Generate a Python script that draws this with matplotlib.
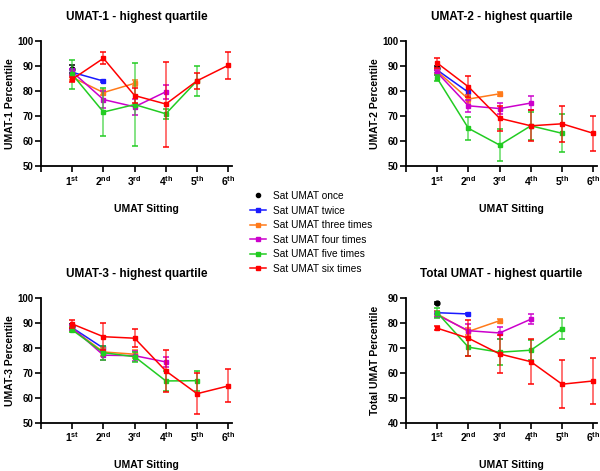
import numpy as np
import matplotlib
matplotlib.use("Agg")
import matplotlib.pyplot as plt
from matplotlib.lines import Line2D

plt.rcParams['font.family'] = ['Liberation Sans', 'DejaVu Sans']
plt.rcParams['mathtext.fontset'] = 'custom'
plt.rcParams['mathtext.rm'] = 'Liberation Sans'
plt.rcParams['mathtext.bf'] = 'Liberation Sans:bold'

groups = ['Sat UMAT once', 'Sat UMAT twice', 'Sat UMAT three times',
          'Sat UMAT four times', 'Sat UMAT five times', 'Sat UMAT six times']
colors = ['black', '#1a1aff', '#ff7a1a', '#cc00cc', '#22cc22', '#ff0000']
sittings = ['1st', '2nd', '3rd', '4th', '5th', '6th']

# means / error bars per group (once .. six times), one list per panel
umat1_mean = [[89.0], [87.6, 84.1], [85.6, 79.5, 83.2], [87.8, 76.7, 73.8, 79.8],
              [86.8, 71.7, 74.7, 71.0, 84.2], [84.8, 93.2, 78.3, 74.9, 84.2, 90.4]]
umat1_err = [[1.5], [1.2, 0.5], [1.0, 1.0, 1.2], [1.2, 3.3, 3.3, 2.7],
             [5.7, 9.5, 16.7, 2.0, 6.1], [1.0, 2.4, 3.0, 17.0, 3.3, 5.3]]

umat2_mean = [[89.3], [88.5, 79.6], [88.0, 76.9, 79.0], [87.5, 74.2, 73.1, 75.3],
              [85.2, 65.2, 58.5, 66.2, 63.2], [91.3, 81.8, 69.2, 66.2, 67.0, 63.2]]
umat2_err = [[0.8], [1.0, 1.0], [1.0, 1.5, 0.8], [1.0, 2.5, 2.3, 2.8],
             [1.2, 4.6, 6.3, 5.5, 7.6], [1.9, 4.2, 5.0, 6.2, 7.2, 7.0]]

umat3_mean = [[88.5], [88.0, 79.8], [87.5, 78.3, 77.4], [88.0, 77.0, 76.8, 74.3],
              [87.1, 78.0, 76.4, 66.7, 66.8], [89.5, 84.4, 83.8, 70.7, 61.6, 64.7]]
umat3_err = [[0.8], [1.0, 1.0], [1.0, 1.5, 1.5], [1.0, 2.0, 2.0, 2.0],
             [1.0, 2.8, 2.0, 4.0, 4.0], [1.7, 5.3, 3.7, 8.3, 8.2, 6.6]]

total_mean = [[87.8], [84.0, 83.5], [83.5, 76.5, 80.8], [83.1, 76.8, 75.9, 81.4],
              [84.0, 70.2, 68.2, 69.0, 77.6], [77.8, 73.8, 67.5, 64.4, 55.4, 56.7]]
total_err = [[0.3], [0.5, 0.5], [1.0, 1.5, 0.8], [1.0, 2.5, 2.3, 2.0],
             [2.0, 3.5, 5.2, 4.0, 4.1], [0.8, 7.2, 7.7, 9.0, 9.6, 9.3]]

panels = [
    ('UMAT-1 - highest quartile', 'UMAT-1 Percentile', umat1_mean, umat1_err, (50, 100)),
    ('UMAT-2 - highest quartile', 'UMAT-2 Percentile', umat2_mean, umat2_err, (50, 100)),
    ('UMAT-3 - highest quartile', 'UMAT-3 Percentile', umat3_mean, umat3_err, (50, 100)),
    ('Total UMAT - highest quartile', 'Total UMAT Percentile', total_mean, total_err, (40, 90)),
]

fig = plt.figure(figsize=(6.0, 4.71), dpi=100)
W, H = 600, 471
boxes = [(41, 41.3), (406, 41.3), (41, 297.7), (406, 297.7)]
aw, ah = 191, 125

for (title, ylab, means, errs, ylim), (x0, y0) in zip(panels, boxes):
    ax = fig.add_axes([x0 / W, 1 - (y0 + ah) / H, aw / W, ah / H])
    for i, (m, e) in enumerate(zip(means, errs)):
        x = np.arange(1, len(m) + 1)
        ls = 'none' if i == 0 else '-'
        ms = 3.5 if i == 0 else 3
        marker = 'o' if i == 0 else 's'
        ax.errorbar(x, m, yerr=e, color=colors[i], ecolor=colors[i], elinewidth=1.1,
                    capsize=2.3, capthick=1.1, lw=1.1, ls=ls, marker=marker, ms=ms,
                    zorder=2 + i)
    # lighten error bars a bit like Prism
    for coll in ax.collections:
        coll.set_alpha(0.7)
    ax.set_xlim(0, 6.12)
    ax.set_ylim(*ylim)
    ax.set_yticks(np.arange(ylim[0], ylim[1] + 1, 10))
    ax.set_xticks(range(0, 7))
    ax.set_xticklabels([''] + [r'$\mathbf{%s^{%s}}$' % (s[0], s[1:]) for s in sittings],
                       fontsize=7.5)
    for lab in ax.get_yticklabels():
        lab.set_fontweight('bold')
        lab.set_fontsize(7)
    ax.tick_params(direction='out', length=4, width=1.2, pad=1.5)
    for side in ['top', 'right']:
        ax.spines[side].set_visible(False)
    for side in ['left', 'bottom']:
        ax.spines[side].set_linewidth(1.3)
    ax.set_title(title, fontsize=8.5, fontweight='bold', pad=15)
    ax.set_ylabel(ylab, fontsize=7.5, fontweight='bold')
    ax.yaxis.set_label_coords(-0.135, 0.5)
    ax.set_xlabel('UMAT Sitting', fontsize=7.5, fontweight='bold')
    ax.xaxis.set_label_coords(0.55, -0.3)

handles = [Line2D([], [], color=colors[0], marker='o', ms=3, ls='none')]
handles += [Line2D([], [], color=c, marker='s', ms=3, lw=1.1) for c in colors[1:]]
fig.legend(handles, groups, loc='upper left', bbox_to_anchor=(250 / W, 1 - 191 / H),
           frameon=False, fontsize=7.3, handlelength=1.6, handletextpad=0.7,
           labelspacing=0.45, borderpad=0, borderaxespad=0)

fig.savefig('out.png', dpi=100)
